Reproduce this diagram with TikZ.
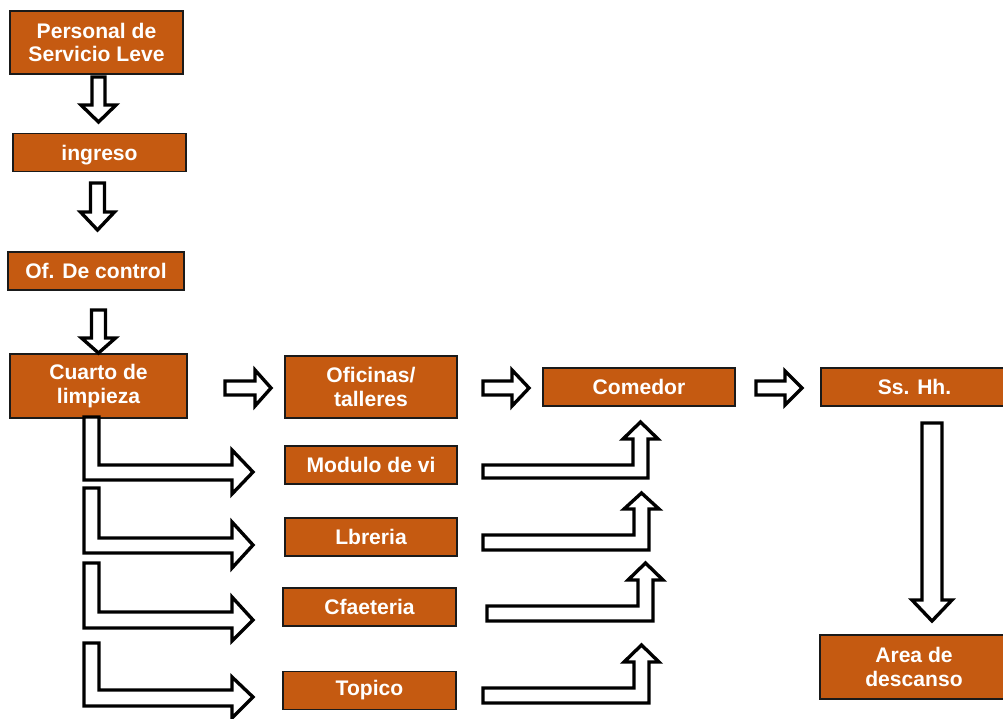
\documentclass[tikz,border=0pt]{standalone}
\usepackage{fontspec}
\setmainfont{Liberation Sans}
\definecolor{cajanaranja}{HTML}{C55A11}
\definecolor{cajaborde}{HTML}{1A1A1A}

\begin{document}
\begin{tikzpicture}[
    x=0.025cm, y=-0.025cm,
    caja/.style={draw=cajaborde, line width=1.3pt, fill=cajanaranja, text=white,
      font=\fontsize{15}{17}\selectfont\bfseries, align=center, inner sep=0pt,
      minimum width=4.3cm, minimum height=0.95cm},
    alta/.style={minimum height=1.58cm},
    flecha/.style={draw=black, fill=white, line width=2.4pt, line join=miter},
  ]
  \useasboundingbox (0,0) rectangle (1003,718);

  % Columna de ingreso
  \node[caja, alta, minimum width=4.33cm] (personal) at (96.5,42.5) {Personal de\\Servicio Leve};
  \node[caja, minimum width=4.33cm, text depth=0pt] (ingreso) at (99.5,152.5) {ingreso};
  \node[caja, minimum width=4.4cm] (control) at (96,271) {Of. De control};
  \node[caja, alta, minimum width=4.43cm, minimum height=1.6cm] (cuarto) at (98.5,386) {Cuarto de\\limpieza};

  % Ambientes
  \node[caja, alta, minimum height=1.55cm] (oficinas) at (371,387) {Oficinas/\\talleres};
  \node[caja] (modulo) at (371,465) {Modulo de vi};
  \node[caja] (libreria) at (371,537) {Lbreria};
  \node[caja, minimum width=4.33cm] (cafeteria) at (369.5,607) {Cfaeteria};
  \node[caja, minimum width=4.33cm] (topico) at (369.5,690.5) {Topico};

  % Salida
  \node[caja, minimum width=4.8cm] (comedor) at (639,387) {Comedor};
  \node[caja, minimum width=4.68cm] (sshh) at (914.5,387) {Ss. Hh.};
  \node[caja, alta, minimum width=4.7cm, minimum height=1.6cm] (descanso) at (914,667) {Area de\\descanso};

  % Flechas hacia abajo
  \draw[flecha] (92,77) -- (105,77) -- (105,105) -- (116,105) -- (98.5,122) -- (81,105) -- (92,105) -- cycle;
  \draw[flecha] (90.5,183) -- (104.5,183) -- (104.5,212) -- (114.5,212) -- (97.5,230) -- (80.5,212) -- (90.5,212) -- cycle;
  \draw[flecha] (91.5,310) -- (105.5,310) -- (105.5,338) -- (115.5,338) -- (98.5,353) -- (81.5,338) -- (91.5,338) -- cycle;

  % Flechas a la derecha
  \draw[flecha] (225,381) -- (255,381) -- (255,370) -- (271,388) -- (255,406) -- (255,395) -- (225,395) -- cycle;
  \draw[flecha] (483,381) -- (512,381) -- (512,370) -- (529,388) -- (512,406) -- (512,395) -- (483,395) -- cycle;
  \draw[flecha] (756,381) -- (785,381) -- (785,371) -- (802,388) -- (785,405) -- (785,395) -- (756,395) -- cycle;

  % Desde cuarto de limpieza
  \draw[flecha] (84,417) -- (99,417) -- (99,465) -- (232,465) -- (232,450) -- (253,472) -- (232,494) -- (232,480) -- (84,480) -- cycle;
  \draw[flecha] (84,488) -- (99,488) -- (99,538) -- (232,538) -- (232,522) -- (253,545) -- (232,568) -- (232,553) -- (84,553) -- cycle;
  \draw[flecha] (84,563) -- (99,563) -- (99,612) -- (232,612) -- (232,597) -- (253,620) -- (232,641) -- (232,628) -- (84,628) -- cycle;
  \draw[flecha] (84,643) -- (99,643) -- (99,690) -- (232,690) -- (232,677) -- (253,697) -- (232,718) -- (232,706) -- (84,706) -- cycle;

  % Hacia el comedor
  \draw[flecha] (483,465) -- (633,465) -- (633,439) -- (623,439) -- (640.5,422) -- (658,439) -- (648,439) -- (648,478) -- (483,478) -- cycle;
  \draw[flecha] (483,535) -- (634,535) -- (634,509) -- (624,509) -- (641.5,493) -- (659,509) -- (649,509) -- (649,550) -- (483,550) -- cycle;
  \draw[flecha] (487,606) -- (638,606) -- (638,580) -- (628,580) -- (645.5,563) -- (663,580) -- (653,580) -- (653,621) -- (487,621) -- cycle;
  \draw[flecha] (483,688) -- (634,688) -- (634,662) -- (624,662) -- (641.5,645) -- (659,662) -- (649,662) -- (649,703) -- (483,703) -- cycle;

  % Ss. Hh. a descanso
  \draw[flecha] (922,423) -- (942,423) -- (942,600) -- (952,600) -- (932,621) -- (912,600) -- (922,600) -- cycle;
\end{tikzpicture}
\end{document}
